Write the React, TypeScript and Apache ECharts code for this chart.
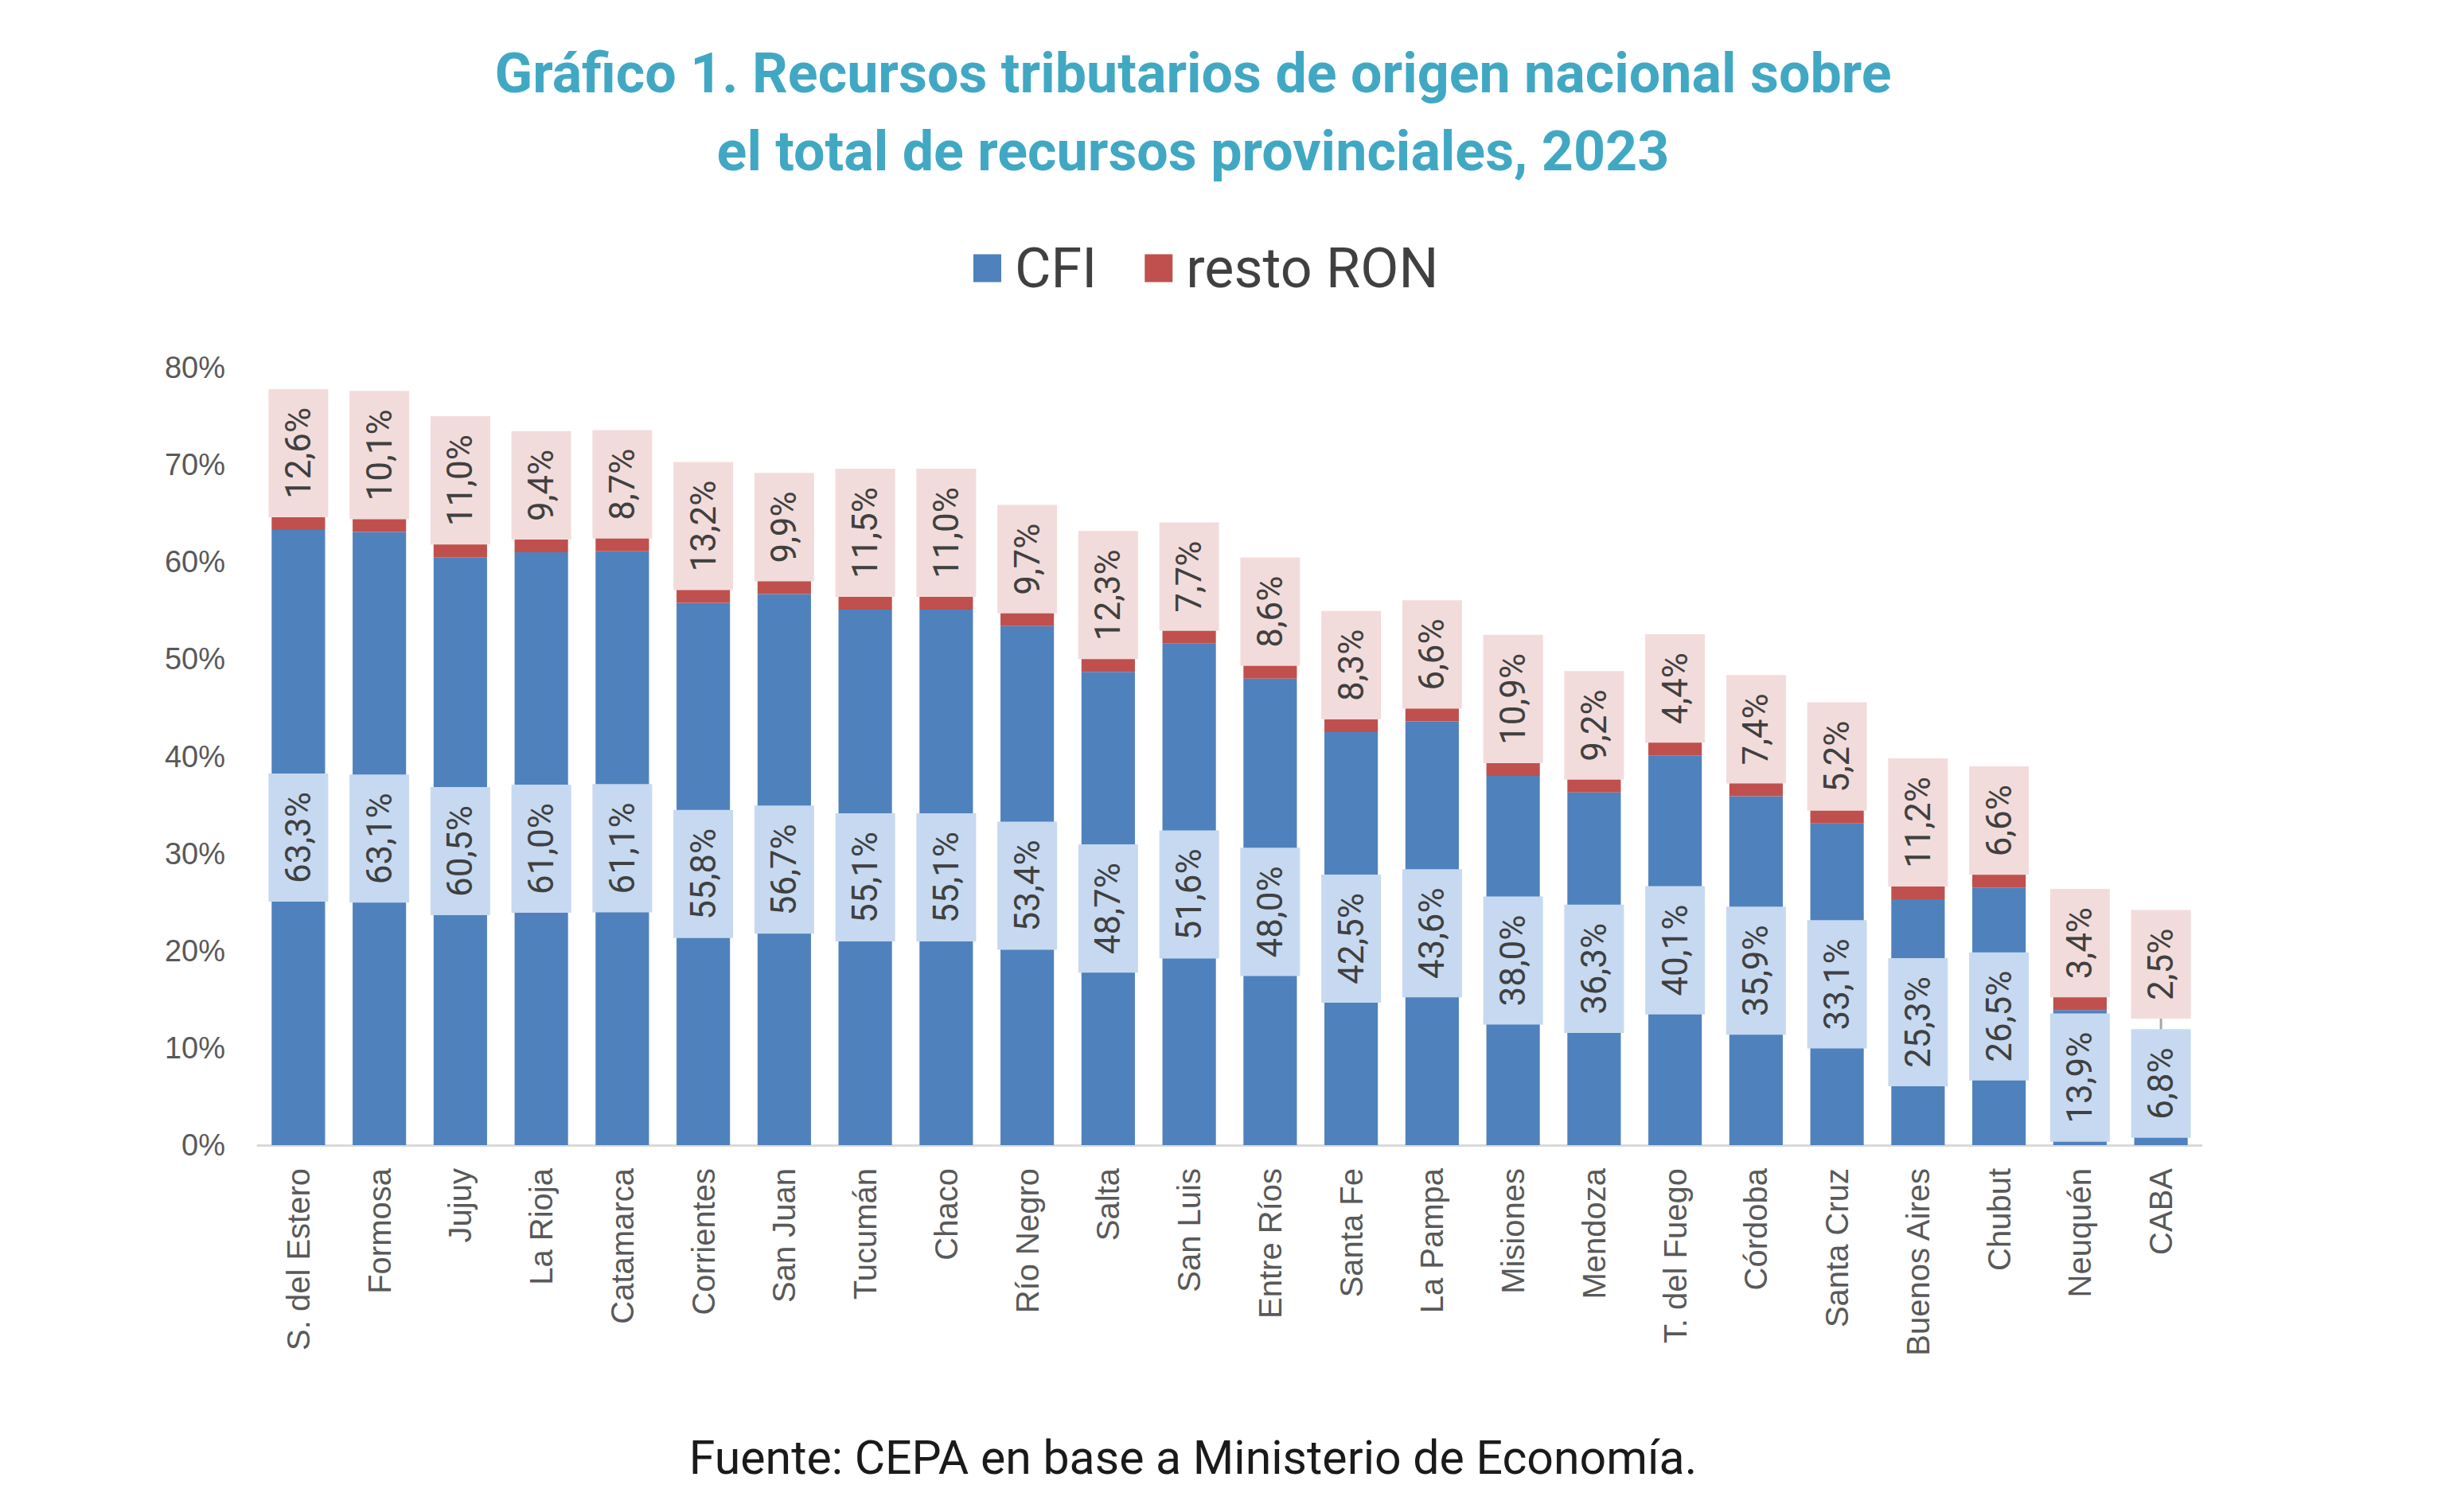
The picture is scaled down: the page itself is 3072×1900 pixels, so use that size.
import React, { useEffect, useRef } from "react";
import * as echarts from "echarts";

const titleLines = [
  "Gráfico 1. Recursos tributarios de origen nacional sobre",
  "el total de recursos provinciales, 2023",
];
const sourceText = "Fuente: CEPA en base a Ministerio de Economía.";

const categories = [
  "S. del Estero", "Formosa", "Jujuy", "La Rioja", "Catamarca", "Corrientes",
  "San Juan", "Tucumán", "Chaco", "Río Negro", "Salta", "San Luis",
  "Entre Ríos", "Santa Fe", "La Pampa", "Misiones", "Mendoza", "T. del Fuego",
  "Córdoba", "Santa Cruz", "Buenos Aires", "Chubut", "Neuquén", "CABA",
];
const cfiValues = [
  63.3, 63.1, 60.5, 61.0, 61.1, 55.8, 56.7, 55.1, 55.1, 53.4, 48.7, 51.6,
  48.0, 42.5, 43.6, 38.0, 36.3, 40.1, 35.9, 33.1, 25.3, 26.5, 13.9, 6.8,
];
const ronValues = [
  12.6, 10.1, 11.0, 9.4, 8.7, 13.2, 9.9, 11.5, 11.0, 9.7, 12.3, 7.7,
  8.6, 8.3, 6.6, 10.9, 9.2, 4.4, 7.4, 5.2, 11.2, 6.6, 3.4, 2.5,
];
const seriesNames = ["CFI", "resto RON"];
const yTicks = { min: 0, max: 80, interval: 10 };

const MOVED = categories.indexOf("CABA");

export default function App() {
  const ref = useRef<HTMLDivElement>(null);
  useEffect(() => {
    const chart = echarts.init(ref.current!, null, { renderer: "svg" });
    const fmt = (p: any) => Number(p.value).toFixed(1).replace(".", ",") + "%";
    const labelBase = {
      show: true,
      rotate: 90,
      formatter: fmt,
      fontFamily: "Roboto",
      fontSize: 44,
      lineHeight: 51,
      color: "#404040",
      padding: [12, 23],
    };
    const titleStyle = {
      align: "center",
      verticalAlign: "middle",
      fontFamily: "Roboto",
      fontWeight: "bold",
      fontSize: 70,
      fill: "#41A8C4",
    };
    chart.setOption({
      animation: false,
      backgroundColor: "#ffffff",
      graphic: [
        { type: "text", x: 1499, y: 92, style: { ...titleStyle, text: titleLines[0] } },
        { type: "text", x: 1499, y: 190, style: { ...titleStyle, text: titleLines[1] } },
        {
          type: "text",
          x: 1499,
          y: 1831,
          style: {
            text: sourceText,
            align: "center",
            verticalAlign: "middle",
            fontFamily: "Roboto",
            fontSize: 59,
            fill: "#1a1a1a",
          },
        },
      ],
      legend: {
        data: seriesNames,
        left: 1218,
        top: 297,
        icon: "rect",
        itemWidth: 35,
        itemHeight: 35,
        itemGap: 60,
        textStyle: {
          fontFamily: "Roboto",
          fontSize: 70,
          color: "#404040",
          padding: [0, 0, 0, 12],
        },
      },
      grid: { left: 324, right: 306, top: 462, bottom: 461 },
      xAxis: {
        type: "category",
        data: categories,
        axisLine: { lineStyle: { color: "#d9d9d9", width: 3 } },
        axisTick: { show: false },
        axisLabel: {
          rotate: 90,
          interval: 0,
          margin: 29,
          fontFamily: "Liberation Sans",
          fontSize: 40,
          color: "#595959",
        },
      },
      yAxis: {
        type: "value",
        min: yTicks.min,
        max: yTicks.max,
        interval: yTicks.interval,
        splitLine: { show: false },
        axisLine: { show: false },
        axisTick: { show: false },
        axisLabel: {
          formatter: "{value}%",
          margin: 41,
          fontFamily: "Liberation Sans",
          fontSize: 38,
          color: "#595959",
        },
      },
      series: [
        {
          name: seriesNames[0],
          type: "bar",
          stack: "total",
          barCategoryGap: "34%",
          data: cfiValues,
          itemStyle: { color: "#4F81BD" },
          label: {
            ...labelBase,
            position: "inside",
            align: "center",
            verticalAlign: "middle",
            backgroundColor: "#C6D9F1",
          },
          labelLayout: (p: any) => (p.dataIndex === MOVED ? { dx: 36 } : {}),
        },
        {
          name: seriesNames[1],
          type: "bar",
          stack: "total",
          barCategoryGap: "34%",
          data: ronValues.map((v, i) =>
            i === MOVED
              ? { value: v, labelLine: { show: true, lineStyle: { color: "#A6A6A6", width: 3 } } }
              : v
          ),
          itemStyle: { color: "#C0504D" },
          label: {
            ...labelBase,
            position: "insideBottom",
            distance: 16,
            align: "left",
            verticalAlign: "middle",
            backgroundColor: "#F2DCDB",
          },
          labelLayout: (p: any) => (p.dataIndex === MOVED ? { dx: 60 } : {}),
        },
      ],
    });
    return () => chart.dispose();
  }, []);
  return (
    <div
      ref={ref}
      style={{ position: "absolute", left: 0, top: 0, width: 3072, height: 1900 }}
    />
  );
}
